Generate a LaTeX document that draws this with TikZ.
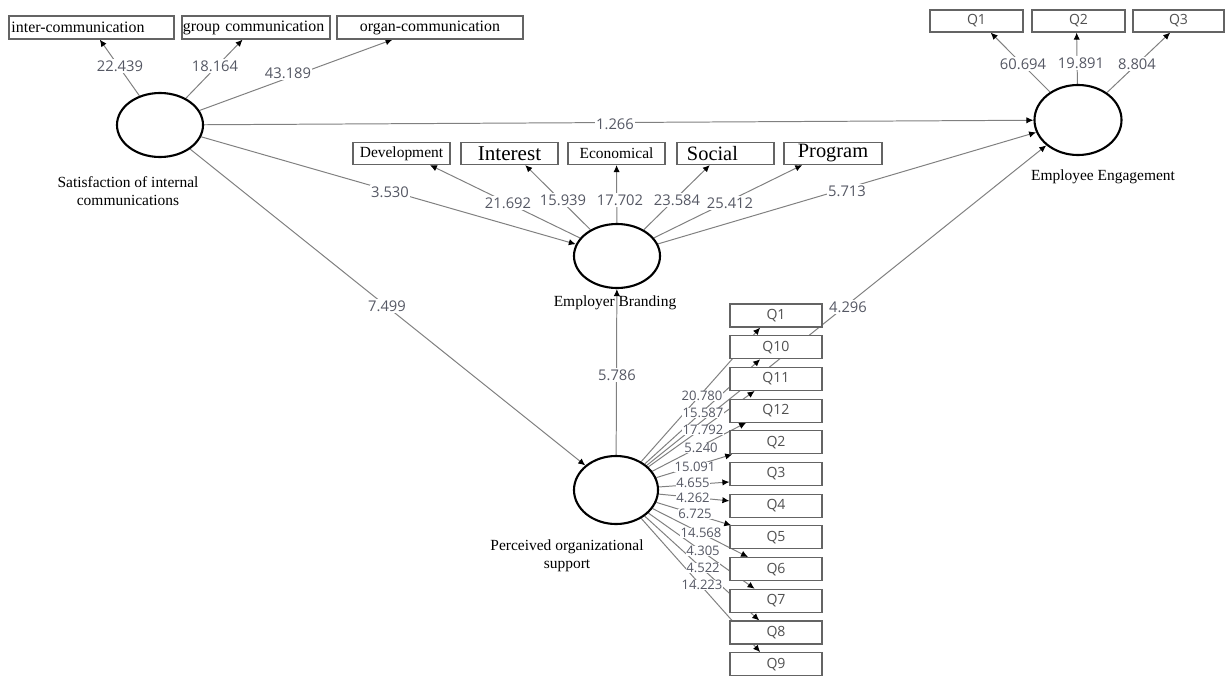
\documentclass[tikz,border=0pt]{standalone}
\usepackage{fontspec}
\setmainfont{Liberation Serif}
\newfontfamily\numfont{Open Sans}
\usetikzlibrary{arrows.meta,backgrounds,calc,shapes.geometric}
\pgfdeclarelayer{bgzero}
\pgfsetlayers{bgzero,background,main}
\definecolor{linegray}{RGB}{128,128,128}
\definecolor{boxgray}{RGB}{100,100,100}
\definecolor{numgray}{RGB}{85,88,100}
\definecolor{qgray}{RGB}{80,80,80}
\tikzset{
 lv/.style={ellipse, draw=black, line width=1.5pt, inner sep=0pt, minimum width=2.15cm, minimum height=1.6cm},
 ind/.style={rectangle, draw=boxgray, line width=0.8pt, fill=white, inner sep=0pt, font=\fontsize{11.3}{13}\selectfont},
 qbox/.style={ind, minimum width=2.3cm, minimum height=0.575cm, font=\numfont\fontsize{10}{12}\selectfont, text=qgray},
 num/.style={fill=white, inner sep=1pt, text=numgray, font=\numfont\fontsize{10.5}{12}\selectfont},
 snum/.style={fill=white, inner sep=0.3pt, text=numgray, font=\numfont\fontsize{9.3}{11}\selectfont},
 lvlabel/.style={align=center, font=\fontsize{11}{12.8}\selectfont},
 conn/.style={draw=linegray, line width=0.7pt, -{Latex[length=5pt,width=4.5pt,color=black]}},
}
\begin{document}
\begin{tikzpicture}[x=0.025cm, y=-0.025cm]
\useasboundingbox (0,0) rectangle (1225,677);
\begin{pgfonlayer}{bgzero}
\fill[white] (0,0) rectangle (1225,677);
\end{pgfonlayer}

% latent variables
\node[lv, minimum height=1.6cm] (S) at (160,125) {};
\node[lv, minimum width=2.175cm, minimum height=1.75cm] (EE) at (1078,120) {};
\node[lv] (EB) at (617,256) {};
\node[lv, minimum width=2.1cm, minimum height=1.7cm] (POS) at (616,490) {};

\node[lvlabel] (sl) at (128,191) {Satisfaction of internal\\communications};
\node[lvlabel] (eel) at (1103,177) {Employee Engagement};
\node[lvlabel] (ebl) at (615,303) {Employer Branding};
\node[lvlabel] (posl) at (567,556) {Perceived organizational\\support};

% indicators of S
\node[ind, minimum width=4.125cm, minimum height=0.575cm, text width=4.0cm, align=left] (inter) at (91.5,27.5) {inter-communication};
\node[ind, minimum width=3.7cm, minimum height=0.575cm, text width=3.65cm, align=left] (group) at (256,27.5) {group communication};
\node[ind, minimum width=4.65cm, minimum height=0.575cm] (organ) at (430,27.5) {organ-communication};

% indicators of EE
\node[qbox, minimum width=2.325cm, minimum height=0.55cm] (e1) at (976.5,21) {Q1};
\node[qbox, minimum width=2.325cm, minimum height=0.55cm] (e2) at (1078.5,21) {Q2};
\node[qbox, minimum width=2.275cm, minimum height=0.55cm] (e3) at (1178.5,21) {Q3};

% indicators of EB
\node[ind, minimum width=2.425cm, minimum height=0.55cm, font=\fontsize{11}{13}\selectfont] (dev) at (401.5,153.5) {Development};
\node[ind, minimum width=2.425cm, minimum height=0.55cm, font=\fontsize{15}{16}\selectfont] (int) at (509.5,153.5) {Interest};
\node[ind, minimum width=2.425cm, minimum height=0.55cm, font=\fontsize{11}{13}\selectfont] (eco) at (616.5,153.5) {Economical};
\node[ind, minimum width=2.425cm, minimum height=0.55cm, text width=1.925cm, align=left, font=\fontsize{14.5}{16}\selectfont] (soc) at (725.5,153.5) {Social};
\node[ind, minimum width=2.45cm, minimum height=0.55cm, font=\fontsize{14.5}{16}\selectfont] (prog) at (833,153.5) {Program};

% indicators of POS
\foreach \n [count=\i from 0] in {1,10,11,12,2,3,4,5,6,7,8,9}
  \node[qbox] (q\n) at (776,{315.5+31.7*\i}) {Q\n};

% connectors
\begin{pgfonlayer}{background}
\draw[conn] (S) -- ($(inter.south west)!0.55!(inter.south east)$);
\draw[conn] (S) -- ($(group.south west)!0.41!(group.south east)$);
\draw[conn] (S) -- ($(organ.south west)!0.30!(organ.south east)$);
\draw[conn] (EE) -- ($(e1.south west)!0.65!(e1.south east)$);
\draw[conn] (EE) -- ($(e2.south west)!0.48!(e2.south east)$);
\draw[conn] (EE) -- ($(e3.south west)!0.41!(e3.south east)$);
\draw[conn] (S) -- (EE);
\draw[conn] (S) -- (EB);
\draw[conn] (S) -- (POS);
\draw[conn] (EB) -- ($(dev.south west)!0.79!(dev.south east)$);
\draw[conn] (EB) -- ($(int.south west)!0.66!(int.south east)$);
\draw[conn] (EB) -- (eco);
\draw[conn] (EB) -- ($(soc.south west)!0.34!(soc.south east)$);
\draw[conn] (EB) -- ($(prog.south west)!0.19!(prog.south east)$);
\draw[conn] (EB) -- (EE);
\draw[conn] (POS) -- (EB);
\draw[conn] (POS) -- (EE);
\draw[conn] (POS) -- ($(q1.south west)!0.33!(q1.south east)$);
\draw[conn] (POS) -- ($(q10.south west)!0.33!(q10.south east)$);
\draw[conn] (POS) -- ($(q11.south west)!0.27!(q11.south east)$);
\draw[conn] (POS) -- ($(q12.south west)!0.18!(q12.south east)$);
\draw[conn] (POS) -- ($(q2.south west)!0.03!(q2.south east)$);
\draw[conn] (POS) -- ($(q3.south west)!0.17!(q3.north west)$);
\draw[conn] (POS) -- ($(q4.north west)!0.3!(q4.south west)$);
\draw[conn] (POS) -- ($(q5.north west)!0.02!(q5.north east)$);
\draw[conn] (POS) -- ($(q6.north west)!0.2!(q6.north east)$);
\draw[conn] (POS) -- ($(q7.north west)!0.27!(q7.north east)$);
\draw[conn] (POS) -- ($(q8.north west)!0.32!(q8.north east)$);
\draw[conn] (POS) -- ($(q9.north west)!0.33!(q9.north east)$);
\end{pgfonlayer}

% path coefficients / loadings
\node[num] (n1) at (120,66) {22.439};
\node[num] (n2) at (215,66) {18.164};
\node[num] (n3) at (288,73) {43.189};
\node[num] (n4) at (1023,64) {60.694};
\node[num] (n5) at (1081,63) {19.891};
\node[num] (n6) at (1137,64) {8.804};
\node[num] (n7) at (615,124) {1.266};
\node[num] (n8) at (390,192) {3.530};
\node[num] (n9) at (508,203) {21.692};
\node[num] (n10) at (563,200) {15.939};
\node[num] (n11) at (620,200) {17.702};
\node[num] (n12) at (677,200) {23.584};
\node[num] (n13) at (730,203) {25.412};
\node[num] (n14) at (847,191) {5.713};
\node[num] (n15) at (387,306) {7.499};
\node[num] (n16) at (617,375) {5.786};
\node[num] (n17) at (848,307) {4.296};
\node[snum] (f1) at (702,396) {20.780};
\node[snum] (f2) at (703,413) {15.587};
\node[snum] (f3) at (703,430) {17.792};
\node[snum] (f4) at (701,448) {5.240};
\node[snum] (f5) at (695,467) {15.091};
\node[snum] (f6) at (693,483) {4.655};
\node[snum] (f7) at (693,498) {4.262};
\node[snum] (f8) at (695,514) {6.725};
\node[snum] (f9) at (701,533) {14.568};
\node[snum] (f10) at (703,551) {4.305};
\node[snum] (f11) at (703,568) {4.522};
\node[snum] (f12) at (702,585) {14.223};
\end{tikzpicture}
\end{document}
